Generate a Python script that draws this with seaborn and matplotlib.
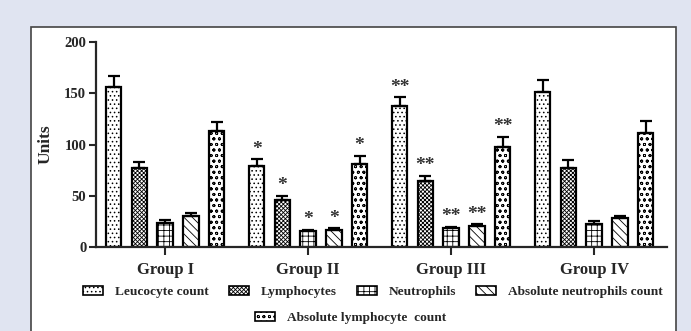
"""Blood cell counts per group, hatched grouped bars with one-sided SEM bars."""
import matplotlib
matplotlib.use("Agg")
import matplotlib.pyplot as plt
import pandas as pd
import seaborn as sns
from matplotlib.patches import Patch, Rectangle

GROUPS = ["Group I", "Group II", "Group III", "Group IV"]
MEASURES = ["Leucocyte count", "Lymphocytes", "Neutrophils",
            "Absolute neutrophils count", "Absolute lymphocyte  count"]

# one list per measure, values for Group I..IV
LEUCOCYTE = [156.5, 78.6, 137.7, 151.6]
LYMPHOCYTES = [77.0, 45.5, 64.0, 77.0]
NEUTROPHILS = [23.4, 15.3, 18.2, 22.7]
ABS_NEUTROPHILS = [30.0, 16.2, 20.8, 28.2]
ABS_LYMPHOCYTE = [112.7, 81.2, 98.0, 111.7]

LEUCOCYTE_ERR = [10.5, 7.1, 8.3, 11.4]
LYMPHOCYTES_ERR = [6.4, 4.5, 5.5, 7.4]
NEUTROPHILS_ERR = [2.6, 1.6, 1.3, 2.3]
ABS_NEUTROPHILS_ERR = [3.0, 2.0, 1.2, 2.3]
ABS_LYMPHOCYTE_ERR = [9.7, 8.0, 9.8, 11.3]

# significance marks per group (same for every measure in the group)
STARS = ["", "*", "**", ""]

HATCHES = ["....", "xxxxxxxx", "+++", "\\\\\\\\", "ooo"]

values = [LEUCOCYTE, LYMPHOCYTES, NEUTROPHILS, ABS_NEUTROPHILS, ABS_LYMPHOCYTE]
errors = [LEUCOCYTE_ERR, LYMPHOCYTES_ERR, NEUTROPHILS_ERR,
          ABS_NEUTROPHILS_ERR, ABS_LYMPHOCYTE_ERR]

df = pd.DataFrame(
    [(g, m, v) for m, vals in zip(MEASURES, values) for g, v in zip(GROUPS, vals)],
    columns=["group", "measure", "value"],
)

sns.set_style("ticks")
plt.rcParams["font.family"] = ["Liberation Serif", "DejaVu Serif"]
plt.rcParams["font.weight"] = "bold"
plt.rcParams["hatch.linewidth"] = 0.6

fig = plt.figure(figsize=(6.91, 3.31), dpi=100)
fig.patch.set_facecolor("#e0e4f1")
fig.patches.append(Rectangle((31 / 691, -0.1), (676 - 31) / 691, 1.1 - 27 / 331,
                             transform=fig.transFigure, facecolor="white",
                             edgecolor="#444444", linewidth=1.2, zorder=-5))
ax = fig.add_axes([96 / 691, 84 / 331, (667 - 96) / 691, 205 / 331])
ax.set_facecolor("none")

sns.barplot(data=df, x="group", y="value", hue="measure", order=GROUPS,
            hue_order=MEASURES, palette=["white"] * 5, width=0.9, gap=0.4,
            edgecolor="black", linewidth=1.6, errorbar=None, legend=False,
            ax=ax)

for container, hatch, errs in zip(ax.containers, HATCHES, errors):
    xs, ys = [], []
    for bar in container:
        bar.set_hatch(hatch)
        xs.append(bar.get_x() + bar.get_width() / 2)
        ys.append(bar.get_height())
    ax.errorbar(xs, ys, yerr=[[0] * len(errs), errs], fmt="none",
                ecolor="black", elinewidth=1.6, capsize=4, capthick=1.6,
                zorder=3)
    for x, y, e, s in zip(xs, ys, errs, STARS):
        if s:
            ax.text(x, y + e + 1.5, s, ha="center", va="bottom", fontsize=14,
                    color="#333333")

ax.set_ylim(0, 200)
ax.set_xlim(-0.483, 3.51)
ax.set_yticks([0, 50, 100, 150, 200])
ax.set_xlabel("")
ax.set_ylabel("Units", fontsize=12.5, fontweight="bold", labelpad=8)
ax.tick_params(axis="y", labelsize=10.5, width=1.5, length=5, pad=2)
ax.tick_params(axis="x", labelsize=12, width=1.5, length=6, pad=5)
for lab in ax.get_xticklabels() + ax.get_yticklabels():
    lab.set_fontweight("bold")
sns.despine(ax=ax)
ax.spines["left"].set_linewidth(1.6)
ax.spines["bottom"].set_linewidth(1.6)

handles = [Patch(facecolor="white", edgecolor="black", hatch=h, linewidth=1.2)
           for h in HATCHES]
leg_kw = dict(frameon=False, handlelength=1.5, handleheight=0.7,
              handletextpad=0.9, columnspacing=1.5,
              prop={"weight": "bold", "size": 9.6})
fig.legend(handles[:4], MEASURES[:4], ncol=4, loc="center",
           bbox_to_anchor=(0.54, 1 - 292 / 331), **leg_kw)
fig.legend(handles[4:], MEASURES[4:], ncol=1, loc="center",
           bbox_to_anchor=(0.508, 1 - 318 / 331), **leg_kw)

fig.savefig("out.png", dpi=100, facecolor=fig.get_facecolor())
